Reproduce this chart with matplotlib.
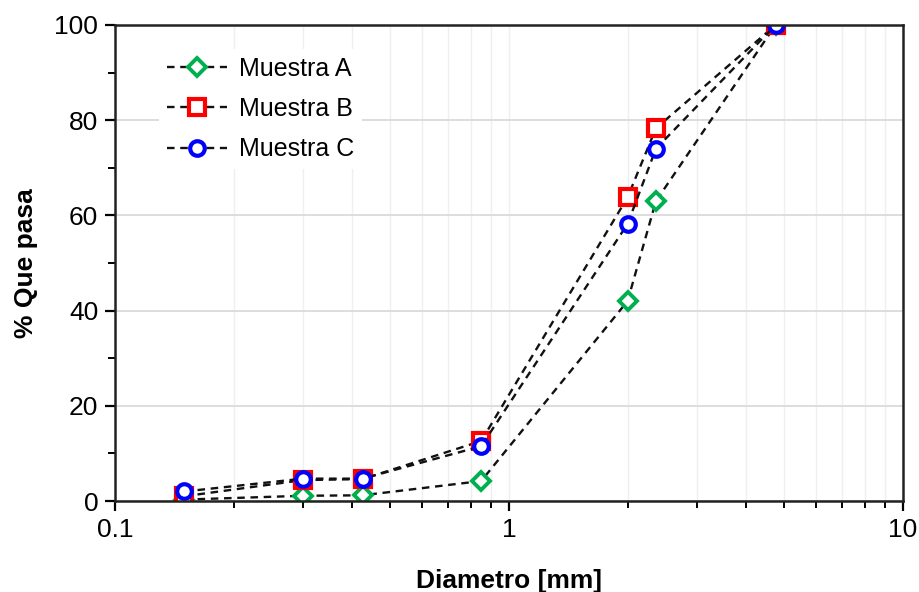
import matplotlib
matplotlib.use('Agg')
import matplotlib.pyplot as plt
from matplotlib.ticker import LogLocator, MultipleLocator, FixedLocator, FixedFormatter, NullFormatter

plt.rcParams['font.family'] = ['Liberation Sans', 'DejaVu Sans']

# sieve sizes [mm] and % passing
diam = [0.15, 0.3, 0.425, 0.85, 2.0, 2.36, 4.75]
muestra_a = [0.3, 1.1, 1.2, 4.2, 42.0, 63.0, 100.0]
muestra_b = [1.0, 4.4, 4.6, 12.6, 63.8, 78.3, 100.0]
muestra_c = [2.0, 4.7, 4.7, 11.5, 58.2, 74.0, 100.0]

fig = plt.figure(figsize=(9.2, 5.92), dpi=100)
ax = fig.add_axes([0.125, 0.1537, 0.8565, 0.8041])

ax.plot(diam, muestra_a, ls='--', color='#111111', lw=1.7, dashes=(3.2, 2.4),
        marker='D', ms=9.5, mfc='white', mec='#00b050', mew=2.8, label='Muestra A')
ax.plot(diam, muestra_b, ls='--', color='#111111', lw=1.7, dashes=(3.2, 2.4),
        marker='s', ms=12, mfc='white', mec='#ff0000', mew=3.0, label='Muestra B')
ax.plot(diam, muestra_c, ls='--', color='#111111', lw=1.7, dashes=(3.2, 2.4),
        marker='o', ms=10.5, mfc='white', mec='#0000ff', mew=3.0, label='Muestra C')

ax.set_xscale('log')
ax.set_xlim(0.1, 10)
ax.set_ylim(0, 100)

ax.xaxis.set_major_locator(FixedLocator([0.1, 1, 10]))
ax.xaxis.set_major_formatter(FixedFormatter(['0.1', '1', '10']))
ax.xaxis.set_minor_locator(LogLocator(base=10, subs=range(2, 10)))
ax.xaxis.set_minor_formatter(NullFormatter())
ax.yaxis.set_major_locator(MultipleLocator(20))
ax.yaxis.set_minor_locator(MultipleLocator(10))

ax.grid(True, which='major', axis='y', color='#dadada', lw=1.3)
ax.grid(True, which='both', axis='x', color='#efefef', lw=1.0)
ax.set_axisbelow(True)

for s in ax.spines.values():
    s.set_linewidth(1.8)
    s.set_color('#222222')

ax.tick_params(which='major', direction='out', length=7, width=1.6, labelsize=19, pad=5)
ax.tick_params(which='minor', direction='out', length=5, width=1.4)

ax.set_xlabel('Diametro [mm]', fontsize=19, fontweight='bold', labelpad=20)
ax.set_ylabel('% Que pasa', fontsize=19, fontweight='bold', labelpad=12)

leg = ax.legend(loc='upper left', bbox_to_anchor=(0.04, 0.975), fontsize=18,
                frameon=True, edgecolor='none', facecolor='white', framealpha=1,
                handlelength=2.4, handletextpad=0.5, labelspacing=0.65, borderpad=0.3)
leg.get_frame().set_linewidth(0)

fig.savefig('out.png', dpi=100)
